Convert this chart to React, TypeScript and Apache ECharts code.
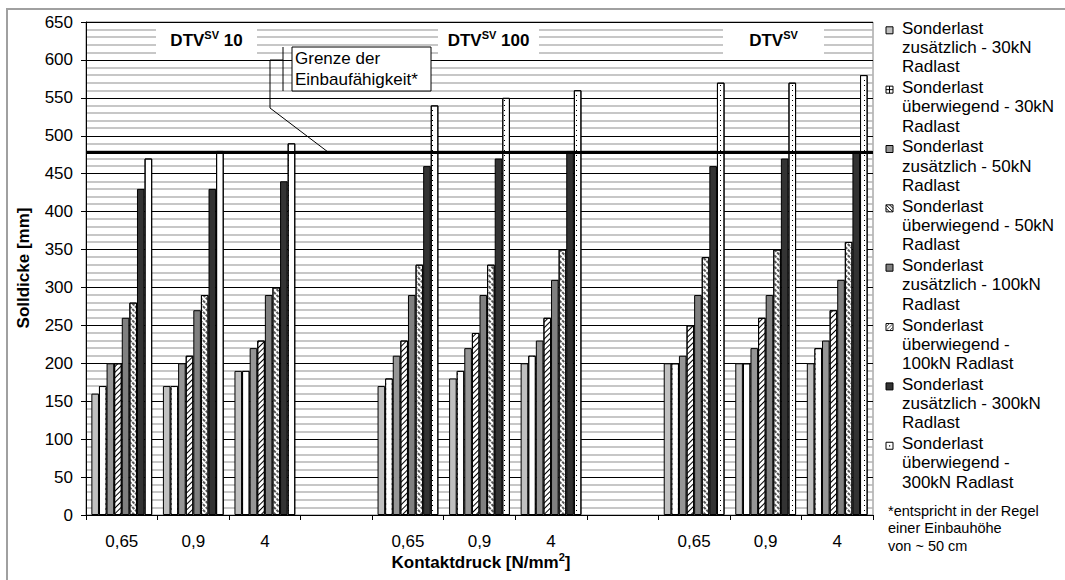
import React, { useEffect, useRef } from "react";
import * as echarts from "echarts";

// ---- data ----
const categories = ["0,65", "0,9", "4", "", "0,65", "0,9", "4", "", "0,65", "0,9", "4"];
const seriesNames = [
  "Sonderlast zusätzlich - 30kN Radlast",
  "Sonderlast überwiegend - 30kN Radlast",
  "Sonderlast zusätzlich - 50kN Radlast",
  "Sonderlast überwiegend - 50kN Radlast",
  "Sonderlast zusätzlich - 100kN Radlast",
  "Sonderlast überwiegend - 100kN Radlast",
  "Sonderlast zusätzlich - 300kN Radlast",
  "Sonderlast überwiegend - 300kN Radlast",
];
const legendLines = [
  ["Sonderlast", "zusätzlich - 30kN", "Radlast"],
  ["Sonderlast", "überwiegend - 30kN", "Radlast"],
  ["Sonderlast", "zusätzlich - 50kN", "Radlast"],
  ["Sonderlast", "überwiegend - 50kN", "Radlast"],
  ["Sonderlast", "zusätzlich - 100kN", "Radlast"],
  ["Sonderlast", "überwiegend -", "100kN Radlast"],
  ["Sonderlast", "zusätzlich - 300kN", "Radlast"],
  ["Sonderlast", "überwiegend -", "300kN Radlast"],
];
const zus30 = [160, 170, 190, null, 170, 180, 200, null, 200, 200, 200];
const ueb30 = [170, 170, 190, null, 180, 190, 210, null, 200, 200, 220];
const zus50 = [200, 200, 220, null, 210, 220, 230, null, 210, 220, 230];
const ueb50 = [200, 210, 230, null, 230, 240, 260, null, 250, 260, 270];
const zus100 = [260, 270, 290, null, 290, 290, 310, null, 290, 290, 310];
const ueb100 = [280, 290, 300, null, 330, 330, 350, null, 340, 350, 360];
const zus300 = [430, 430, 440, null, 460, 470, 480, null, 460, 470, 480];
const ueb300 = [470, 480, 490, null, 540, 550, 560, null, 570, 570, 580];
const seriesValues = [zus30, ueb30, zus50, ueb50, zus100, ueb100, zus300, ueb300];
const limitValue = 478;
const groupLabels = ["10", "100", ""];
const limitLabel = ["Grenze der", "Einbaufähigkeit*"];
const footnote = ["*entspricht in der Regel", "einer Einbauhöhe", "von ~ 50 cm"];
const yMin = 0;
const yMax = 650;
const yInterval = 50;

const FONT = "'Liberation Sans', Arial, Helvetica, sans-serif";

const fills = ["#c0c0c0", "#ffffff", "#969696", "#ffffff", "#808080", "#ffffff", "#333333", "#ffffff"];
const decals: any[] = [
  null,
  { symbol: "rect", symbolSize: 1, color: "#ffffff", backgroundColor: "#000000", dashArrayX: [2.2, 1.1], dashArrayY: [2.2, 1.1] },
  null,
  { symbol: "rect", symbolSize: 1, color: "#000000", dashArrayX: [1, 0], dashArrayY: [1, 2.5], rotation: -Math.PI / 4 },
  null,
  { symbol: "rect", symbolSize: 1, color: "#555555", dashArrayX: [3, 1], dashArrayY: [1.4, 2], rotation: Math.PI / 4 },
  null,
  { symbol: "rect", symbolSize: 1, color: "#000000", dashArrayX: [1, 7], dashArrayY: [1, 4] },
];

function legendIcon(i: number, x: number, y: number): any {
  const s = 7;
  const children: any[] = [
    { type: "rect", shape: { x, y, width: s, height: s }, style: { fill: fills[i], stroke: "#000", lineWidth: 1 } },
  ];
  const ln = (x1: number, y1: number, x2: number, y2: number, c = "#000") => ({
    type: "line",
    shape: { x1, y1, x2, y2 },
    style: { stroke: c, lineWidth: 1 },
  });
  if (i === 1) {
    children.push(ln(x + s / 2, y, x + s / 2, y + s));
    children.push(ln(x, y + s / 2, x + s, y + s / 2));
  } else if (i === 3) {
    children.push(ln(x, y, x + s, y + s));
    children.push(ln(x, y + 3.5, x + 3.5, y + s));
    children.push(ln(x + 3.5, y, x + s, y + 3.5));
  } else if (i === 5) {
    children.push(ln(x, y + s, x + s, y, "#555"));
    children.push(ln(x, y + 3.5, x + 3.5, y, "#555"));
    children.push(ln(x + 3.5, y + s, x + s, y + 3.5, "#555"));
  } else if (i === 7) {
    children.push({ type: "rect", shape: { x: x + 3, y: y + 3, width: 1.2, height: 1.2 }, style: { fill: "#000" } });
  }
  return { type: "group", z: 100, children };
}

export default function App() {
  const ref = useRef<HTMLDivElement>(null);
  useEffect(() => {
    if (!ref.current) return;
    const chart = echarts.init(ref.current, null, { renderer: "svg" });

    const series: any[] = seriesValues.map((vals, i) => {
      const s: any = {
        type: "bar",
        name: seriesNames[i],
        data: vals,
        barGap: "0%",
        barCategoryGap: "15%",
        itemStyle: { color: fills[i], borderColor: "#000", borderWidth: 1 },
      };
      if (decals[i]) s.itemStyle.decal = decals[i];
      if (i === 0) {
        s.markLine = {
          silent: true,
          symbol: "none",
          label: { show: false },
          lineStyle: { color: "#000", width: 3, type: "solid" },
          data: [{ yAxis: limitValue }],
          z: 10,
        };
      }
      return s;
    });

    const graphics: any[] = [];
    // outer frame
    graphics.push({
      type: "rect",
      z: 100,
      shape: { x: 7, y: 9, width: 1080, height: 600 },
      style: { fill: "none", stroke: "#a0a0a0", lineWidth: 2 },
    });
    // group header boxes
    const boxXs = [156, 438, 723];
    groupLabels.forEach((g, k) => {
      graphics.push({
        type: "rect",
        z: 100,
        shape: { x: boxXs[k], y: 27, width: 101, height: 27 },
        style: { fill: "#fff" },
      });
      graphics.push({
        type: "text",
        z: 101,
        x: boxXs[k] + 50.5,
        y: 40,
        style: {
          text: "DTV{sup|SV}" + (g ? " " + g : ""),
          fontFamily: FONT,
          fontSize: 17,
          fontWeight: "bold",
          fill: "#000",
          align: "center",
          verticalAlign: "middle",
          lineHeight: 21,
          rich: { sup: { fontSize: 11, fontWeight: "bold", fontFamily: FONT, verticalAlign: "top", lineHeight: 12 } },
        },
      });
    });
    // limit callout
    graphics.push({
      type: "polyline",
      z: 100,
      shape: { points: [[283, 60], [270, 60], [270, 108], [328, 152]] },
      style: { stroke: "#000", lineWidth: 1, fill: "none" },
    });
    graphics.push({
      type: "line",
      z: 100,
      shape: { x1: 283, y1: 47, x2: 283, y2: 91 },
      style: { stroke: "#000", lineWidth: 1 },
    });
    graphics.push({
      type: "rect",
      z: 100,
      shape: { x: 292, y: 47, width: 139, height: 44 },
      style: { fill: "#fff", stroke: "#000", lineWidth: 1 },
    });
    graphics.push({
      type: "text",
      z: 101,
      x: 295,
      y: 48,
      style: {
        text: limitLabel.join("\n"),
        fontFamily: FONT,
        fontSize: 17,
        lineHeight: 21,
        fill: "#000",
        align: "left",
        verticalAlign: "top",
      },
    });
    // legend
    const itemStep = 59.35;
    const lineH = 19.2;
    legendLines.forEach((lines, i) => {
      const c = 28.3 + i * itemStep;
      graphics.push(legendIcon(i, 886, c - 1.5));
      graphics.push({
        type: "text",
        z: 101,
        x: 902,
        y: c - lineH / 2,
        style: {
          text: lines.join("\n"),
          fontFamily: FONT,
          fontSize: 17,
          lineHeight: lineH,
          fill: "#000",
          align: "left",
          verticalAlign: "top",
        },
      });
    });
    // footnote
    graphics.push({
      type: "text",
      z: 101,
      x: 888,
      y: 502,
      style: {
        text: footnote.join("\n"),
        fontFamily: FONT,
        fontSize: 14.5,
        lineHeight: 17.5,
        fill: "#000",
        align: "left",
        verticalAlign: "top",
      },
    });
    // axis titles
    graphics.push({
      type: "text",
      z: 101,
      x: 23,
      y: 268,
      rotation: Math.PI / 2,
      style: {
        text: "Solldicke [mm]",
        fontFamily: FONT,
        fontSize: 17,
        fontWeight: "bold",
        fill: "#000",
        align: "center",
        verticalAlign: "middle",
      },
    });
    graphics.push({
      type: "text",
      z: 101,
      x: 481,
      y: 562,
      style: {
        text: "Kontaktdruck [N/mm{sup|2}]",
        fontFamily: FONT,
        fontSize: 17,
        fontWeight: "bold",
        fill: "#000",
        align: "center",
        verticalAlign: "middle",
        lineHeight: 21,
        rich: { sup: { fontSize: 11, fontWeight: "bold", fontFamily: FONT, verticalAlign: "top", lineHeight: 12 } },
      },
    });

    chart.setOption({
      animation: false,
      textStyle: { fontFamily: FONT },
      grid: {
        left: 86,
        right: 192,
        top: 22,
        bottom: 65,
        show: true,
        borderColor: "#808080",
        borderWidth: 1,
        backgroundColor: "#fff",
      },
      legend: { show: false },
      xAxis: {
        type: "category",
        data: categories,
        boundaryGap: true,
        axisLine: { show: true, lineStyle: { color: "#000", width: 1 } },
        axisTick: { show: true, interval: 0, length: 5, alignWithLabel: false, lineStyle: { color: "#000" } },
        axisLabel: { interval: 0, color: "#000", fontSize: 17, fontFamily: FONT, margin: 18 },
        splitLine: { show: false },
      },
      yAxis: {
        type: "value",
        min: yMin,
        max: yMax,
        interval: yInterval,
        axisLine: { show: true, lineStyle: { color: "#000", width: 1 } },
        axisTick: { show: true, length: 5, lineStyle: { color: "#000" } },
        axisLabel: { color: "#000", fontSize: 17, fontFamily: FONT, margin: 13 },
        splitLine: { show: true, lineStyle: { color: "#000", width: 1 } },
        minorTick: { show: false, splitNumber: 5 },
        minorSplitLine: { show: true, lineStyle: { color: "#b4b4b4", width: 1.5 } },
      },
      series,
      graphic: graphics,
    });
    return () => chart.dispose();
  }, []);
  return <div ref={ref} style={{ position: "absolute", left: 0, top: 0, width: 1065, height: 580 }} />;
}
